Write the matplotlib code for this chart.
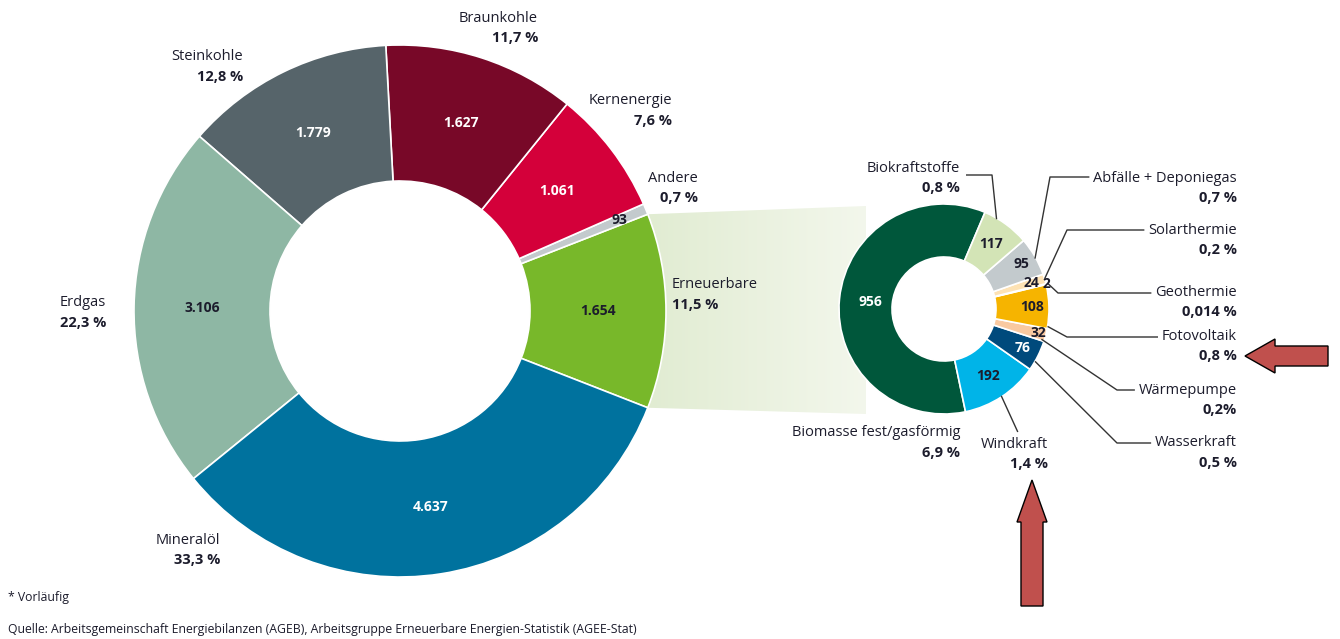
import numpy as np
import matplotlib.pyplot as plt
from matplotlib.patches import Polygon, FancyArrow

W, H = 1340, 639

# Primärenergieverbrauch in Deutschland (PJ) - main ring, counterclockwise from 3 o'clock
main_names = ['Erneuerbare', 'Andere', 'Kernenergie', 'Braunkohle', 'Steinkohle', 'Erdgas', 'Mineralöl']
main_values = [1654, 93, 1061, 1627, 1779, 3106, 4637]
main_shares = ['11,5 %', '0,7 %', '7,6 %', '11,7 %', '12,8 %', '22,3 %', '33,3 %']

# Erneuerbare split (PJ)
ee_names = ['Biomasse fest/gasförmig', 'Windkraft', 'Wasserkraft', 'Wärmepumpe', 'Fotovoltaik',
            'Geothermie', 'Solarthermie', 'Abfälle + Deponiegas', 'Biokraftstoffe']
ee_values = [956, 192, 76, 32, 108, 2, 24, 95, 117]
ee_shares = ['6,9 %', '1,4 %', '0,5 %', '0,2%', '0,8 %', '0,014 %', '0,2 %', '0,7 %', '0,8 %']

main_colors = ['#78b82a', '#c3cacd', '#d4003a', '#780828', '#56646a', '#8eb7a4', '#00729e']
main_txt = ['#1c1c2c', '#1c1c2c', 'white', 'white', 'white', '#1c1c2c', 'white']
ee_colors = ['#00573b', '#00b4e8', '#004a7c', '#f9c9a0', '#f6b400', '#f4a24a', '#fde2b4', '#c3cacd', '#d3e4b6']
ee_txt = ['white', '#1c1c2c', 'white', '#1c1c2c', '#1c1c2c', '#1c1c2c', '#1c1c2c', '#1c1c2c', '#1c1c2c']

TXT = '#1c1c2c'
plt.rcParams['font.family'] = ['Open Sans', 'DejaVu Sans']


def Y(py):
    return H - py


def fmt(v):
    return f'{v:,}'.replace(',', '.')


def wedge_point(w, center, frac, r):
    a = np.deg2rad(w.theta1 + frac * (w.theta2 - w.theta1))
    return center[0] + r * np.cos(a), center[1] + r * np.sin(a)


fig = plt.figure(figsize=(W / 100, H / 100), dpi=100)
ax = fig.add_axes([0, 0, 1, 1])

# big ring
big_c = (400, Y(311))
big_r, big_w = 266, 136
ee_angle = 360 * main_values[0] / sum(main_values)
wedges, _ = ax.pie(main_values, colors=main_colors, startangle=-ee_angle / 2, counterclock=True,
                   center=big_c, radius=big_r,
                   wedgeprops=dict(width=big_w, edgecolor='white', linewidth=1.2))
for w in wedges:
    w.set_zorder(3)

# small ring (renewables)
sm_c = (944, Y(309))
sm_r, sm_w = 105, 53
sm_wedges, _ = ax.pie(ee_values, colors=ee_colors, startangle=67, counterclock=True,
                      center=sm_c, radius=sm_r,
                      wedgeprops=dict(width=sm_w, edgecolor='white', linewidth=1.2))
for w in sm_wedges:
    w.set_zorder(3)

ax.set_xlim(0, W)
ax.set_ylim(0, H)
ax.set_aspect('equal')
ax.axis('off')

# gradient band linking Erneuerbare to the small ring
ew = wedges[0]
x0, y_top = wedge_point(ew, big_c, 1.0, big_r)
_, y_bot = wedge_point(ew, big_c, 0.0, big_r)
x_right = 866
band = Polygon([(x0, y_top), (x_right, Y(206)), (x_right, Y(414)), (x0, y_bot)],
               closed=True, fc='none', ec='none')
ax.add_patch(band)
grad = np.linspace(0, 1, 256).reshape(1, -1)
c0 = np.array([0xe1, 0xec, 0xd2]) / 255
c1 = np.array([0xf3, 0xf7, 0xec]) / 255
img = c0[None, None, :] * (1 - grad[..., None]) + c1[None, None, :] * grad[..., None]
im = ax.imshow(img, extent=(x0, x_right, Y(414), Y(206)), aspect='auto', zorder=1)
im.set_clip_path(band)

# values inside big ring
big_lab_r = [198, 238, 198, 198, 198, 198, 198]
for w, v, c, r in zip(wedges, main_values, main_txt, big_lab_r):
    x, y = wedge_point(w, big_c, 0.5, r)
    ax.text(x, y, fmt(v), color=c, fontsize=10, fontweight='bold', ha='center', va='center', zorder=5)

# values inside small ring
sm_lab_r = [74, 80, 88, 97, 88, 106, 91, 90, 80]
for w, v, c, r in zip(sm_wedges, ee_values, ee_txt, sm_lab_r):
    x, y = wedge_point(w, sm_c, 0.5, r)
    ax.text(x, y, fmt(v), color=c, fontsize=10, fontweight='bold', ha='center', va='center', zorder=5)

# category labels of big ring: (x, y of name line, ha)
big_lab_pos = [(672, 285, 'left'), (698, 178, 'right'), (672, 101, 'right'), (538, 18, 'right'),
               (243, 57, 'right'), (60, 303, 'left'), (220, 540, 'right')]
for name, share, (x, y, ha) in zip(main_names, main_shares, big_lab_pos):
    ax.text(x, Y(y), name, color=TXT, fontsize=10.5, ha=ha, va='center')
    ax.text(x, Y(y + 20), share, color=TXT, fontsize=10.5, fontweight='bold', ha=ha, va='center')

# category labels of small ring
sm_lab_pos = [(960, 433), (1048, 444), (1237, 443), (1237, 390), (1237, 336),
              (1237, 292), (1237, 230), (1237, 178), (960, 168)]
name_texts = []
for name, share, (x, y) in zip(ee_names, ee_shares, sm_lab_pos):
    name_texts.append(ax.text(x, Y(y), name, color=TXT, fontsize=10.5, ha='right', va='center'))
    ax.text(x, Y(y + 20), share, color=TXT, fontsize=10.5, fontweight='bold', ha='right', va='center')

fig.canvas.draw()
renderer = fig.canvas.get_renderer()
inv = ax.transData.inverted()

# leader lines: (side of label, line y, elbow x, frac within wedge, radius)
leaders = [None,
           ('top', 432, None, 0.5, 104),
           ('left', 443, 1117, 0.3, 105),
           ('left', 390, 1117, 0.1, 102),
           ('left', 337, 1067, 0.05, 105),
           ('left', 293, 1058, 0.5, 107),
           ('left', 230, 1067, 0.5, 105),
           ('left', 177, 1050, 0.45, 104),
           ('right', 175, 992, 0.72, 104)]
for w, t, ld in zip(sm_wedges, name_texts, leaders):
    if ld is None:
        continue
    side, ly, ex, frac, r = ld
    bb = t.get_window_extent(renderer).transformed(inv)
    px, py = wedge_point(w, sm_c, frac, r)
    if side == 'top':
        xs, ys = [bb.x0 + 0.55 * bb.width, px], [Y(ly), py]
    else:
        sx = bb.x0 - 4 if side == 'left' else bb.x1 + 6
        xs, ys = [sx, ex, px], [Y(ly), Y(ly), py]
    ax.plot(xs, ys, color='#333333', lw=1.0, zorder=4, solid_capstyle='butt')

# red arrows
ax.add_patch(FancyArrow(1328, Y(356), -83, 0, width=20, head_width=34, head_length=30,
                        length_includes_head=True, fc='#c0504d', ec='black', lw=1, zorder=6))
ax.add_patch(FancyArrow(1032, Y(606), 0, 126, width=22, head_width=30, head_length=42,
                        length_includes_head=True, fc='#c0504d', ec='black', lw=1, zorder=6))

# footnotes
ax.text(8, Y(597), '* Vorläufig', color=TXT, fontsize=8.8, ha='left', va='center')
ax.text(8, Y(630), 'Quelle: Arbeitsgemeinschaft Energiebilanzen (AGEB), Arbeitsgruppe Erneuerbare '
        'Energien-Statistik (AGEE-Stat)', color=TXT, fontsize=8.8, ha='left', va='center')

fig.savefig('out.png', dpi=100)
